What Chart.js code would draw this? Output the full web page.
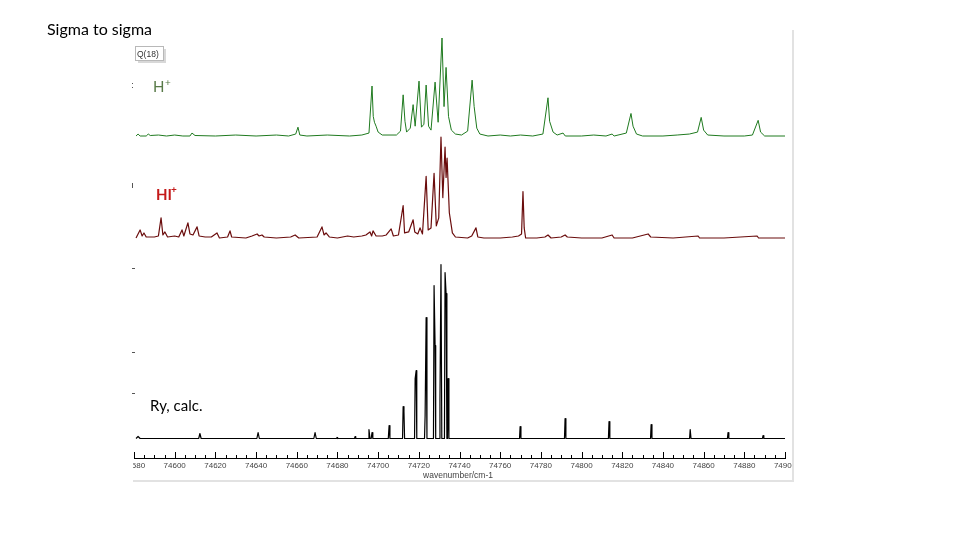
<!DOCTYPE html>
<html>
<head>
<meta charset="utf-8">
<title>Sigma to sigma</title>
<script src="https://cdn.jsdelivr.net/npm/chart.js"></script>
<style>
  html, body { margin: 0; padding: 0; background: #fff; }
</style>
</head>
<body>
<canvas id="myChart" width="960" height="540"></canvas>
<script>

// wavenumber axis (cm-1)
const xMin = 74580;
const xMax = 74900;
const xStep = 20;

// H+ trace (green), trace vertices
const greenX = [
  74581, 74582, 74583, 74586, 74587, 74588, 74592, 74596, 74600, 74604,
  74607.5, 74608.5, 74610, 74620, 74630, 74640, 74650, 74656, 74659.5, 74660.6,
  74661.5, 74665, 74675, 74686, 74692, 74695.5, 74697, 74697.6, 74698.2, 74699,
  74700, 74702, 74709, 74711, 74712.3, 74713.2, 74714, 74715.8, 74717.2, 74718.2,
  74720.1, 74721.3, 74722.5, 74723.6, 74724.8, 74726, 74728, 74729.5, 74731.4, 74732.4,
  74733.4, 74734.6, 74736, 74738, 74741, 74744, 74746.2, 74747.2, 74748.5, 74750,
  74754, 74760, 74765, 74770, 74776, 74781, 74783.5, 74784.3, 74786, 74788,
  74790.9, 74792, 74800, 74806, 74812, 74815, 74816, 74822, 74824.3, 74825.3,
  74827, 74830, 74840, 74847, 74853, 74857, 74858.8, 74860, 74862, 74870,
  74880, 74884, 74886.8, 74888, 74890, 74900
];
const greenY = [
  0, 2, 0, 0, 2, 0.5, 1, 0, 1, 0,
  0, 3, 0.5, 0, 1, 0, 1, 0, 2, 9,
  1, 0, 1, 0, 1, 3, 51, 20, 14, 10,
  4, 1, 1, 5, 42, 15, 4, 8, 32, 10,
  56, 9, 12, 52, 10, 6, 55, 14, 100, 30,
  70, 20, 6, 2, 1, 5, 57, 30, 8, 2,
  0, 1, 0, 1, 0, 2, 39, 15, 4, 1,
  3, 0, 0, 1, 0, 2, 0, 3, 23, 10,
  2, 0, 0, 1, 2, 4, 19, 6, 1, 0,
  0, 1, 16, 4, 0, 0
];

// HI+ trace (dark red)
const redX = [
  74581, 74583, 74584, 74584.9, 74586, 74590, 74592, 74593.3, 74594.2, 74595.2,
  74596.5, 74600, 74602, 74603.6, 74604.5, 74606.5, 74607.5, 74609, 74611, 74612,
  74615, 74618, 74620.8, 74622, 74626, 74627.2, 74628, 74635, 74638, 74640.5,
  74641.5, 74642.9, 74644, 74650, 74657, 74659.2, 74661, 74670, 74672.4, 74673.4,
  74674.4, 74676, 74680, 74685, 74688, 74692, 74694, 74696, 74696.8, 74697.5,
  74699, 74702, 74704, 74706.4, 74707.5, 74710, 74712.3, 74713, 74715, 74717.2,
  74718, 74719.5, 74720.6, 74721.8, 74723.6, 74724.6, 74726, 74727.5, 74728.6, 74729.8,
  74730.9, 74731.8, 74732.9, 74733.4, 74733.9, 74735, 74736.5, 74738, 74744, 74746,
  74748.1, 74749, 74752, 74760, 74766, 74769, 74770.5, 74771.2, 74771.8, 74772.5,
  74778, 74782, 74783.5, 74785, 74790, 74791.9, 74793, 74800, 74810, 74815,
  74816, 74825, 74832.7, 74834, 74845, 74857.3, 74858, 74870, 74886.3, 74887,
  74900
];
const redY = [
  0, 8, 2, 5, 1, 1, 2, 20, 3, 6,
  1, 2, 1, 8, 2, 15, 4, 3, 11, 2,
  1, 1, 5, 0, 1, 7, 1, 0, 2, 4,
  2, 3, 1, 0, 1, 3, 0, 1, 11, 3,
  5, 1, 0, 2, 1, 2, 3, 6, 2, 7,
  2, 2, 3, 9, 2, 3, 32, 5, 6, 18,
  6, 4, 10, 4, 61, 8, 10, 64, 12, 20,
  100, 40, 90, 60, 79, 25, 5, 1, 0, 2,
  10, 1, 0, 0, 1, 2, 4, 46, 10, 0,
  0, 1, 3, 0, 1, 3, 1, 0, 0, 3,
  0, 0, 4, 1, 0, 2, 0, 0, 2, 0,
  0
];

// Ry, calc. trace (black stick spectrum)
const blackX = [
  74581, 74582, 74583, 74611.8, 74612.4, 74613, 74640.4, 74641, 74641.6, 74668.4,
  74669, 74669.6, 74679.5, 74679.8, 74680.1, 74688.4, 74688.7, 74689, 74695.1, 74695.5,
  74696, 74696.6, 74697, 74697.4, 74705, 74705.4, 74705.8, 74712, 74712.3, 74712.7,
  74713, 74717.9, 74718.2, 74718.7, 74719, 74722.8, 74723.1, 74723.6, 74724, 74727.2,
  74727.5, 74728, 74728.3, 74730.1, 74730.4, 74730.9, 74731.3, 74732.6, 74732.9, 74733.4,
  74733.8, 74734.1, 74734.4, 74734.8, 74769.5, 74769.8, 74770.2, 74791.6, 74791.9, 74792.3,
  74813.2, 74813.5, 74813.9, 74833.9, 74834.2, 74834.6, 74853.1, 74853.4, 74853.8, 74871.7,
  74872, 74872.4, 74888.9, 74889.2, 74889.6, 74900
];
const blackY = [
  0, 2, 0, 0, 5, 0, 0, 6, 0, 0,
  6, 0, 0, 1, 0, 0, 2, 0, 0, 9,
  0, 0, 6, 0, 0, 13, 0, 0, 32, 27,
  0, 0, 60, 68, 0, 0, 23, 121, 0, 0,
  153, 93, 0, 0, 38, 174, 0, 0, 166, 145,
  0, 0, 60, 0, 0, 12, 0, 0, 20, 0,
  0, 17, 0, 0, 14, 0, 0, 9, 0, 0,
  6, 0, 0, 3, 0, 0
];

// plot frame in pixels
const areaTop = 35;
const areaBottom = 458;
const areaLeft = 134;
const areaRight = 785;
const xAxisHeight = 20;

// each trace gets its own hidden y scale, so its baseline lands in its band
function bandScale(basePx, pxPerUnit) {
  return {
    type: 'linear',
    display: false,
    min: -(areaBottom - basePx) / pxPerUnit,
    max: (basePx - areaTop) / pxPerUnit
  };
}

function toPoints(xs, ys) {
  return xs.map((x, i) => ({ x: x, y: ys[i] }));
}

const decorations = {
  id: 'decorations',
  afterDraw(chart) {
    const ctx = chart.ctx;
    const xs = chart.scales.x;
    const bottom = chart.chartArea.bottom;
    ctx.save();

    // inward tick marks: major every 20, minor every 5
    ctx.strokeStyle = '#000';
    ctx.lineWidth = 1;
    for (let v = xMin; v <= xMax; v += 5) {
      const px = Math.round(xs.getPixelForValue(v)) + 0.5;
      const len = v % xStep === 0 ? 6 : 3;
      ctx.beginPath();
      ctx.moveTo(px, bottom);
      ctx.lineTo(px, bottom - len);
      ctx.stroke();
    }

    // the original is a cropped screenshot: hide label ends past the frame
    ctx.fillStyle = '#fff';
    ctx.fillRect(0, bottom + 1, areaLeft - 1, 14);
    ctx.fillRect(792, bottom + 1, 168, 14);

    // screenshot frame
    ctx.strokeStyle = '#e2e2e2';
    ctx.lineWidth = 2;
    ctx.beginPath();
    ctx.moveTo(793, 30);
    ctx.lineTo(793, 481);
    ctx.lineTo(133, 481);
    ctx.stroke();

    // axis title
    ctx.fillStyle = '#444';
    ctx.font = '8.5px "Liberation Sans"';
    ctx.textAlign = 'center';
    ctx.textBaseline = 'alphabetic';
    ctx.fillText('wavenumber/cm-1', 458, 478);

    // slide title
    ctx.textAlign = 'left';
    ctx.fillStyle = '#000';
    ctx.font = '16px Lato';
    ctx.fillText('Sigma to sigma', 47, 35);

    // Q(18) tag
    ctx.fillStyle = '#d8d8d8';
    ctx.fillRect(138, 49, 28, 14);
    ctx.fillStyle = '#fff';
    ctx.fillRect(135, 46, 28, 14);
    ctx.strokeStyle = '#b8b8b8';
    ctx.lineWidth = 1;
    ctx.strokeRect(135.5, 46.5, 28, 14);
    ctx.fillStyle = '#333';
    ctx.font = '8.5px "Liberation Sans"';
    ctx.fillText('Q(18)', 137, 57);

    // trace labels
    ctx.fillStyle = '#587a48';
    ctx.font = '15px Lato';
    ctx.fillText('H', 153, 92);
    ctx.font = '10px Lato';
    ctx.fillText('+', 165, 86);

    ctx.fillStyle = '#c41a1a';
    ctx.font = 'bold 15px Lato';
    ctx.fillText('HI', 156, 200);
    ctx.font = 'bold 10px Lato';
    ctx.fillText('+', 171, 193);

    ctx.fillStyle = '#000';
    ctx.font = '15px Lato';
    ctx.fillText('Ry, calc.', 150, 411);

    // stray y-axis tick remnants at the left edge
    ctx.fillStyle = '#555';
    ctx.fillRect(132, 83, 1, 1);
    ctx.fillRect(132, 87, 1, 1);
    ctx.fillRect(132, 183, 1, 5);
    ctx.fillRect(132, 268, 3, 1);
    ctx.fillRect(132, 352, 3, 1);
    ctx.fillRect(132, 393, 3, 1);

    ctx.restore();
  }
};

const config = {
  type: 'line',
  data: {
    datasets: [
      {
        label: 'H+',
        data: toPoints(greenX, greenY),
        yAxisID: 'yGreen',
        borderColor: '#1f7a1f',
        borderWidth: 1,
        borderJoinStyle: 'round',
        pointRadius: 0,
        tension: 0
      },
      {
        label: 'HI+',
        data: toPoints(redX, redY),
        yAxisID: 'yRed',
        borderColor: '#6a0c0c',
        borderWidth: 1.2,
        borderJoinStyle: 'round',
        pointRadius: 0,
        tension: 0
      },
      {
        label: 'Ry, calc.',
        data: toPoints(blackX, blackY),
        yAxisID: 'yBlack',
        borderColor: '#000',
        borderWidth: 1.2,
        borderJoinStyle: 'round',
        pointRadius: 0,
        tension: 0
      }
    ]
  },
  options: {
    responsive: false,
    animation: false,
    events: [],
    layout: {
      padding: {
        left: areaLeft,
        right: 960 - areaRight,
        top: areaTop,
        bottom: 540 - areaBottom - xAxisHeight
      }
    },
    plugins: {
      legend: { display: false },
      tooltip: { enabled: false }
    },
    scales: {
      x: {
        type: 'linear',
        min: xMin,
        max: xMax,
        afterFit(scale) { scale.height = xAxisHeight; },
        grid: { display: true, drawOnChartArea: false, drawTicks: false },
        border: { display: true, color: '#000', width: 1 },
        ticks: {
          stepSize: xStep,
          padding: 3,
          maxRotation: 0,
          autoSkip: false,
          color: '#444',
          font: { family: 'Liberation Sans', size: 8 },
          callback: (v) => String(v)
        }
      },
      yGreen: bandScale(136, 0.98),
      yRed: bandScale(238, 1.01),
      yBlack: bandScale(438.5, 1.0)
    }
  },
  plugins: [decorations]
};

const myChart = new Chart(
  document.getElementById('myChart'),
  config
);
</script>
</body>
</html>
